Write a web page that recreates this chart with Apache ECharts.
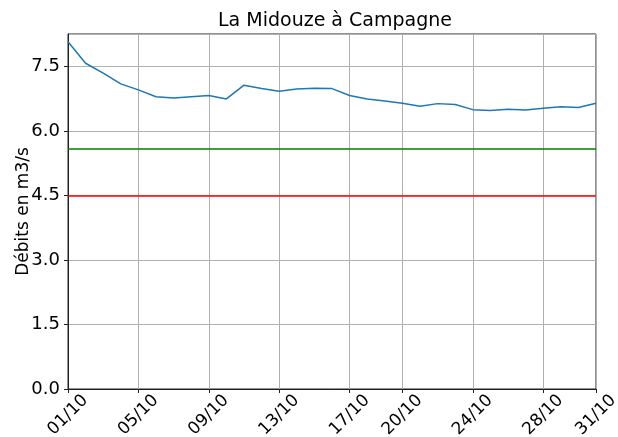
<!DOCTYPE html>
<html>
<head>
<meta charset="utf-8">
<script src="https://cdn.jsdelivr.net/npm/echarts@6/dist/echarts.min.js"></script>
<style>
  html, body { margin: 0; padding: 0; background: #fff; }
  #chart { width: 618px; height: 437px; }
</style>
</head>
<body>
<div id="chart"></div>
<script>
// daily flow, October
const days = [
  '01/10', '02/10', '03/10', '04/10', '05/10', '06/10', '07/10', '08/10',
  '09/10', '10/10', '11/10', '12/10', '13/10', '14/10', '15/10', '16/10',
  '17/10', '18/10', '19/10', '20/10', '21/10', '22/10', '23/10', '24/10',
  '25/10', '26/10', '27/10', '28/10', '29/10', '30/10', '31/10'
];
const debits = [
  8.08, 7.58, 7.35, 7.10, 6.96, 6.80, 6.77, 6.80,
  6.83, 6.75, 7.07, 6.99, 6.93, 6.98, 7.00, 6.99,
  6.83, 6.75, 6.70, 6.65, 6.58, 6.64, 6.62, 6.50,
  6.48, 6.51, 6.49, 6.53, 6.57, 6.55, 6.65
];
const shownDays = ['01/10', '05/10', '09/10', '13/10', '17/10', '20/10', '24/10', '28/10', '31/10'];
const seuilHaut = 5.6;
const seuilBas = 4.5;
const yTicks = [0, 1.5, 3.0, 4.5, 6.0, 7.5];

const font = 'DejaVu Sans';
const isShown = (idx) => shownDays.includes(days[idx]);

const chart = echarts.init(document.getElementById('chart'));
chart.setOption({
  animation: false,
  title: {
    text: 'La Midouze à Campagne',
    left: 213,
    top: 7,
    textStyle: { fontFamily: font, fontSize: 19, fontWeight: 'normal', color: '#000' },
  },
  grid: {
    left: 68,
    right: 22,
    top: 34,
    bottom: 48,
    outerBoundsMode: 'none',
    containLabel: false,
    show: true,
    borderColor: '#222',
    borderWidth: 1,
  },
  xAxis: {
    type: 'category',
    data: days,
    boundaryGap: false,
    axisLine: { lineStyle: { color: '#222', width: 1 } },
    axisTick: { interval: (i) => isShown(i), length: 4, lineStyle: { color: '#222' } },
    splitLine: { show: true, interval: (i) => isShown(i), lineStyle: { color: '#b0b0b0', width: 1 } },
    axisLabel: {
      interval: (i) => isShown(i),
      rotate: 45,
      align: 'center',
      verticalAlign: 'middle',
      margin: 26,
      fontFamily: font,
      fontSize: 17,
      color: '#000',
    },
  },
  yAxis: {
    type: 'value',
    min: yTicks[0],
    max: 8.26,
    interval: yTicks[1] - yTicks[0],
    name: 'Débits en m3/s',
    nameLocation: 'middle',
    nameGap: 36,
    nameMoveOverlap: false,
    nameTextStyle: { fontFamily: font, fontSize: 17, color: '#000' },
    axisLine: { show: true, lineStyle: { color: '#222', width: 1 } },
    axisTick: { show: true, length: 4, lineStyle: { color: '#222' } },
    splitLine: { show: true, lineStyle: { color: '#b0b0b0', width: 1 } },
    axisLabel: {
      showMaxLabel: false,
      formatter: (v) => v.toFixed(1),
      margin: 8,
      fontFamily: font,
      fontSize: 18,
      color: '#000',
    },
  },
  series: [
    {
      type: 'line',
      data: debits,
      showSymbol: false,
      lineStyle: { color: '#1f77b4', width: 1.5 },
      markLine: {
        silent: true,
        symbol: 'none',
        label: { show: false },
        data: [
          { yAxis: seuilHaut, lineStyle: { color: '#008000', type: 'solid', width: 1.5 } },
          { yAxis: seuilBas, lineStyle: { color: '#ff0000', type: 'solid', width: 1.5 } },
        ],
      },
    },
  ],
});
</script>
</body>
</html>
